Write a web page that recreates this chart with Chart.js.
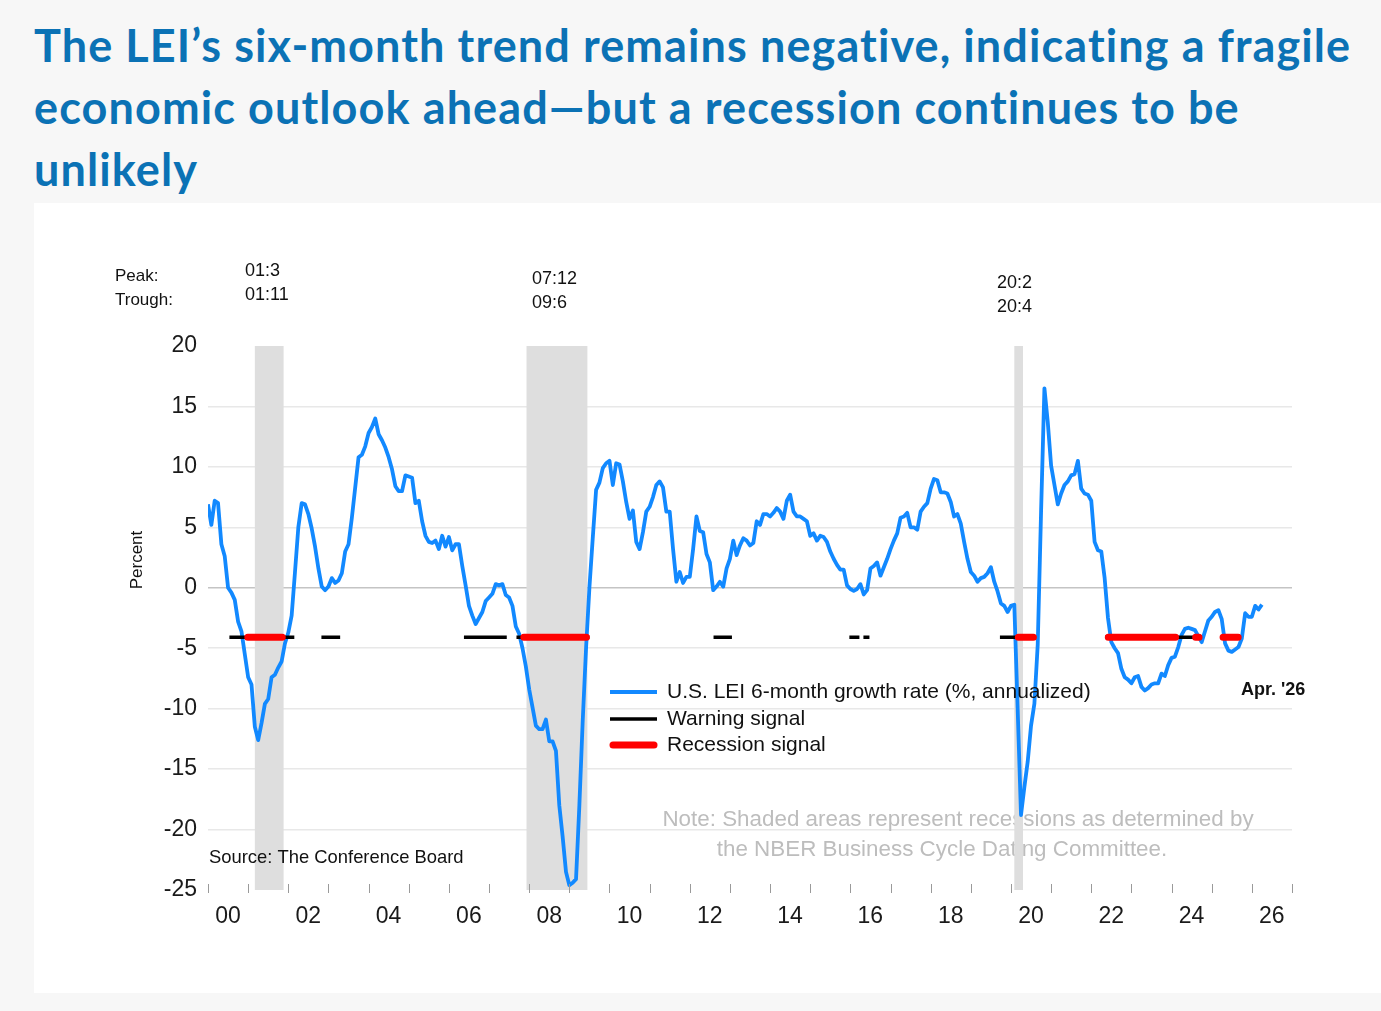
<!DOCTYPE html>
<html>
<head>
<meta charset="utf-8">
<script src="https://cdn.jsdelivr.net/npm/chart.js@4.4.1/dist/chart.umd.min.js"></script>
<style>
  body { margin: 0; background: #f7f7f7; width: 1381px; height: 1011px; overflow: hidden; }
  #title { position: absolute; left: 34px; top: 14px; font: 700 45px Lato, sans-serif; letter-spacing: 1.1px; color: #0b72b5; line-height: 62px; white-space: nowrap; }
  #panel { position: absolute; left: 34px; top: 203px; width: 1347px; height: 790px; background: #fff; }
</style>
</head>
<body>
<div id="title">The LEI’s six-month trend remains negative, indicating a fragile<br>economic outlook ahead—but a recession continues to be<br>unlikely</div>
<div id="panel"><canvas id="myChart" width="1347" height="790"></canvas></div>
<script>
//------------------------- DATA -------------------------

var startYear = 2000;       // first month = Jan 2000, one value per month up to Apr 2026

var lei = [
  6.9, 5.2, 7.2, 7.0, 3.6, 2.6, 0.0, -0.4, -1.0, -2.8, -3.6, -5.5,          // 2000
  -7.4, -8.0, -11.5, -12.6, -11.2, -9.6, -9.2, -7.4, -7.2, -6.6, -6.1, -4.6, // 2001
  -3.7, -2.3, 1.3, 5.0, 7.0, 6.9, 6.1, 4.9, 3.4, 1.6, 0.1, -0.2,            // 2002
  0.1, 0.8, 0.4, 0.6, 1.2, 3.0, 3.6, 5.8, 8.3, 10.8, 11.0, 11.7,            // 2003
  12.8, 13.3, 14.0, 12.7, 12.2, 11.6, 10.8, 9.8, 8.4, 8.0, 8.0, 9.3,        // 2004
  9.2, 9.1, 7.0, 7.2, 5.5, 4.3, 3.8, 3.7, 3.9, 3.2, 4.3, 3.4,               // 2005
  4.2, 3.1, 3.6, 3.6, 1.8, 0.2, -1.5, -2.3, -3.0, -2.5, -2.0, -1.1,         // 2006
  -0.8, -0.5, 0.3, 0.2, 0.3, -0.6, -0.8, -1.5, -3.2, -3.8, -5.0, -6.5,      // 2007
  -8.4, -9.9, -11.4, -11.7, -11.7, -10.9, -12.7, -12.7, -13.5, -18.0, -20.6, -23.5, // 2008
  -24.6, -24.4, -24.1, -18.0, -11.0, -5.0, 0.0, 4.1, 8.1, 8.7, 9.9, 10.3,   // 2009
  10.5, 8.5, 10.3, 10.2, 8.8, 7.1, 5.7, 6.4, 3.8, 3.2, 4.6, 6.3,            // 2010
  6.7, 7.5, 8.5, 8.8, 8.3, 6.3, 6.3, 3.2, 0.5, 1.3, 0.4, 0.9,               // 2011
  0.9, 3.2, 5.9, 4.7, 4.6, 2.8, 2.1, -0.2, 0.1, 0.5, 0.1, 1.6,              // 2012
  2.4, 3.9, 2.7, 3.5, 4.1, 3.9, 3.5, 3.7, 5.5, 5.2, 6.1, 6.1,               // 2013
  5.9, 6.2, 6.6, 6.3, 5.7, 7.2, 7.7, 6.3, 5.9, 5.9, 5.7, 5.5,               // 2014
  4.3, 4.5, 3.9, 4.3, 4.2, 3.8, 3.0, 2.4, 1.9, 1.5, 1.5, 0.2,               // 2015
  -0.1, -0.25, -0.1, 0.3, -0.55, -0.2, 1.6, 1.8, 2.1, 1.0, 1.7, 2.4,        // 2016
  3.2, 3.9, 4.5, 5.8, 5.9, 6.2, 5.0, 5.0, 4.8, 6.3, 6.7, 7.0,               // 2017
  8.2, 9.0, 8.9, 7.9, 7.9, 7.8, 7.1, 5.9, 6.1, 5.3, 3.8, 2.4,               // 2018
  1.3, 1.0, 0.5, 0.8, 0.9, 1.2, 1.7, 0.5, -0.3, -1.3, -1.5, -2.0,           // 2019
  -1.5, -1.4, -10.0, -18.8, -16.5, -14.4, -11.4, -9.6, -4.7, 6.3, 16.5, 13.7, // 2020
  10.1, 8.5, 6.9, 7.8, 8.5, 8.8, 9.3, 9.4, 10.5, 8.2, 7.8, 7.7,             // 2021
  7.2, 3.8, 3.1, 3.0, 0.8, -2.5, -4.5, -5.0, -5.4, -6.7, -7.4, -7.6,        // 2022
  -7.9, -7.4, -7.3, -8.2, -8.5, -8.3, -8.0, -7.9, -7.9, -7.1, -7.3, -6.4,   // 2023
  -5.8, -5.7, -4.9, -3.9, -3.4, -3.3, -3.4, -3.5, -4.0, -4.5, -3.6, -2.7,   // 2024
  -2.4, -2.0, -1.85, -2.6, -4.6, -5.2, -5.3, -5.1, -4.9, -4.2, -2.1, -2.4,  // 2025
  -2.4, -1.5, -1.8, -1.4                                                   // 2026
];

var signalLevel = -4.1;     // signals are drawn on the -4.1% threshold

// month ranges (months since Jan 2000)
var warningSignals = [[6.4, 25.8], [33.9, 39.5], [76.5, 89.3], [92.2, 114], [151.1, 156.6],
                      [191.7, 194.7], [195.9, 197.7], [236.7, 247], [268.1, 297]];
var recessionSignals = [[11.9, 22.2], [94.4, 113.1], [242.2, 246.7], [269.1, 289.2],
                        [295.2, 296.2], [303.4, 307.9]];
var recessions = [[14, 22.6], [95.2, 113.4], [241, 243.6]];     // NBER peak -> trough

var peaks = ['01:3', '07:12', '20:2'];
var troughs = ['01:11', '09:6', '20:4'];

var yTicks = [20, 15, 10, 5, 0, -5, -10, -15, -20, -25];

//------------------------- HELPERS -------------------------

function monthToYear(m) {
    return startYear + m / 12;
}

function signalPoints(ranges) {               // broken line: null between segments
    var pts = [];
    for (let i = 0; i < ranges.length; i++) {
        pts.push({x: monthToYear(ranges[i][0]), y: signalLevel});
        pts.push({x: monthToYear(ranges[i][1]), y: signalLevel});
        pts.push({x: monthToYear(ranges[i][1]) + 0.001, y: null});
    }
    return pts;
}

var leiPoints = [];
for (let i = 0; i < lei.length; i++) {
    leiPoints.push({x: monthToYear(i), y: lei[i]});
}

var FONT = '"Liberation Sans", Arial, sans-serif';

//------------------------- EXTRA DRAWING -------------------------

var decorations = {
    id: 'decorations',
    beforeDatasetsDraw(chart) {
        var c = chart.ctx, x = chart.scales.x, area = chart.chartArea;
        c.save();
        // note
        c.fillStyle = '#bdbdbd';
        c.font = '22.4px ' + FONT;
        c.textAlign = 'center';
        c.textBaseline = 'middle';
        c.fillText('Note: Shaded areas represent recessions as determined by', 924, 617);
        c.fillText('the NBER Business Cycle Dating Committee.', 908, 647);
        // recession shading
        c.fillStyle = '#dedede';
        for (let i = 0; i < recessions.length; i++) {
            var x0 = x.getPixelForValue(monthToYear(recessions[i][0]));
            var x1 = x.getPixelForValue(monthToYear(recessions[i][1]));
            c.fillRect(x0, area.top, x1 - x0, area.bottom - area.top);
        }
        c.restore();
    },
    afterDatasetsDraw(chart) {
        var c = chart.ctx, x = chart.scales.x, area = chart.chartArea;
        c.save();
        // x tick marks, one per year
        c.strokeStyle = '#9a9a9a';
        c.lineWidth = 1;
        for (let yr = startYear; yr <= 2027; yr++) {
            var px = Math.round(x.getPixelForValue(yr)) + 0.5;
            c.beginPath();
            c.moveTo(px, area.bottom - 6);
            c.lineTo(px, area.bottom + 3);
            c.stroke();
        }
        c.fillStyle = '#111';
        c.textBaseline = 'middle';
        c.textAlign = 'left';
        // peak / trough
        c.font = '17px ' + FONT;
        c.fillText('Peak:', 81, 73);
        c.fillText('Trough:', 81, 97);
        var labelX = [211, 498, 963];
        var labelY = [68, 76, 80];
        c.font = '18px ' + FONT;
        for (let i = 0; i < peaks.length; i++) {
            c.fillText(peaks[i], labelX[i], labelY[i]);
            c.fillText(troughs[i], labelX[i], labelY[i] + 24);
        }
        // source
        c.font = '18.4px ' + FONT;
        c.fillText('Source: The Conference Board', 175, 655);
        // last month
        c.font = 'bold 18px ' + FONT;
        c.fillText("Apr. '26", 1207, 487);
        // legend
        var legend = [
            ['U.S. LEI 6-month growth rate (%, annualized)', '#1289ff', 3.8, 'butt'],
            ['Warning signal', '#000000', 3.5, 'butt'],
            ['Recession signal', '#ff0000', 7, 'round']
        ];
        var legendY = [489, 516, 542];
        c.font = '21px ' + FONT;
        for (let i = 0; i < legend.length; i++) {
            c.strokeStyle = legend[i][1];
            c.lineWidth = legend[i][2];
            c.lineCap = legend[i][3];
            var inset = legend[i][3] == 'round' ? 3 : 0;
            c.beginPath();
            c.moveTo(576 + inset, legendY[i]);
            c.lineTo(623 - inset, legendY[i]);
            c.stroke();
            c.fillText(legend[i][0], 633, legendY[i]);
        }
        // y title
        c.translate(103, 357);
        c.rotate(-Math.PI / 2);
        c.textAlign = 'center';
        c.font = '17px ' + FONT;
        c.fillText('Percent', 0, 0);
        c.restore();
    }
};

//------------------------- CHART -------------------------

var ctx = document.getElementById('myChart').getContext('2d');
var chart = new Chart(ctx, {
    type: 'line',
    data: {
        datasets: [{
            label: 'Recession signal',
            data: signalPoints(recessionSignals),
            borderColor: '#ff0000',
            borderWidth: 7,
            borderCapStyle: 'round',
            pointRadius: 0,
            spanGaps: false,
            order: 0
        }, {
            label: 'Warning signal',
            data: signalPoints(warningSignals),
            borderColor: '#000000',
            borderWidth: 3.5,
            pointRadius: 0,
            spanGaps: false,
            order: 1
        }, {
            label: 'U.S. LEI 6-month growth rate (%, annualized)',
            data: leiPoints,
            borderColor: '#1289ff',
            borderWidth: 3.8,
            borderJoinStyle: 'round',
            pointRadius: 0,
            tension: 0,
            order: 2
        }]
    },
    options: {
        responsive: false,
        animation: false,
        events: [],
        layout: { padding: { left: 0, top: 143, right: 89, bottom: 0 } },
        plugins: { legend: { display: false }, tooltip: { enabled: false } },
        scales: {
            x: {
                type: 'linear',
                min: 2000,
                max: 2027,
                afterFit: function (scale) { scale.height = 103; },
                border: { display: false },
                grid: { display: true, drawOnChartArea: false, drawTicks: false, tickLength: 0 },
                ticks: {
                    stepSize: 1,
                    autoSkip: false,
                    maxRotation: 0,
                    labelOffset: 20,
                    padding: 13,
                    color: '#1a1a1a',
                    font: { family: FONT, size: 23 },
                    callback: function (v) {
                        return (v % 2 == 0 && v < 2027) ? String(v).slice(2) : '';
                    }
                }
            },
            y: {
                min: -25,
                max: 20,
                afterFit: function (scale) { scale.width = 174; },
                afterBuildTicks: function (scale) {
                    scale.ticks = yTicks.map(function (v) { return {value: v}; });
                },
                border: { display: false },
                grid: {
                    drawTicks: false,
                    lineWidth: 1.5,
                    color: function (c) {
                        var v = c.tick.value;
                        if (v == 0) return '#c4c4c4';
                        if (v == 20 || v == -25) return 'rgba(0,0,0,0)';
                        return '#e8e8e8';
                    }
                },
                ticks: {
                    padding: 11,
                    color: '#1a1a1a',
                    font: { family: FONT, size: 23 }
                }
            }
        }
    },
    plugins: [decorations]
});
</script>
</body>
</html>
